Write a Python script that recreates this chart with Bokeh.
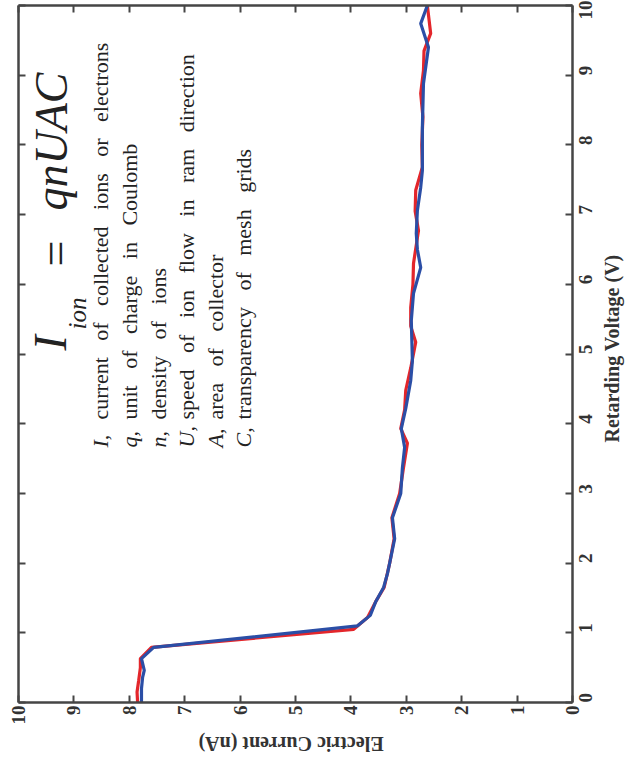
import math
from bokeh.plotting import figure
from bokeh.models import Range1d, LinearAxis, FixedTicker, Label, CustomLabelingPolicy
from bokeh.embed import file_html
from bokeh.resources import INLINE

# ---- data ----
voltage_red = [0.00, 0.15, 0.32, 0.50, 0.63, 0.79, 1.05, 1.22, 1.45, 1.65, 2.00, 2.35,
               2.65, 3.00, 3.37, 3.72, 3.93, 4.20, 4.48, 4.80, 5.17, 5.40, 5.67, 6.00,
               6.30, 6.77, 7.05, 7.35, 7.68, 8.00, 8.40, 8.74, 9.07, 9.35, 9.60, 10.00]
current_red = [7.85, 7.86, 7.83, 7.80, 7.80, 7.60, 3.95, 3.70, 3.55, 3.40, 3.30, 3.22,
               3.26, 3.12, 3.05, 2.98, 3.10, 3.03, 3.01, 2.92, 2.83, 2.92, 2.92, 2.88,
               2.87, 2.78, 2.84, 2.83, 2.71, 2.72, 2.70, 2.74, 2.69, 2.68, 2.56, 2.62]

voltage_blue = [0.00, 0.20, 0.36, 0.46, 0.63, 0.79, 1.10, 1.25, 1.45, 1.65, 1.85, 2.04,
                2.35, 2.65, 3.00, 3.37, 3.66, 3.93, 4.22, 4.62, 4.90, 5.20, 5.48, 5.87,
                6.24, 6.50, 6.73, 7.06, 7.39, 7.63, 8.25, 8.88, 9.40, 9.74, 10.00]
current_blue = [7.78, 7.78, 7.76, 7.73, 7.78, 7.56, 3.88, 3.65, 3.55, 3.41, 3.34, 3.29,
                3.21, 3.25, 3.10, 3.07, 3.03, 3.09, 3.01, 2.92, 2.89, 2.90, 2.91, 2.87,
                2.74, 2.80, 2.82, 2.80, 2.74, 2.71, 2.71, 2.69, 2.60, 2.74, 2.62]

ticks = list(range(0, 11))
x_label = "Electric Current (nA)"
y_label = "Retarding Voltage (V)"
formula_main = "I"
formula_sub = "ion"
formula_eq = "="
formula_rest = "qnUAC"
legend_symbols = ["I,", "q,", "n,", "U,", "A,", "C,"]
legend_texts = ["current of collected ions or electrons",
                "unit of charge in Coulomb",
                "density of ions",
                "speed of ion flow in ram direction",
                "area of collector",
                "transparency of mesh grids"]

# ---- layout (page pixels) ----
W, H = 625, 764
FL, FR, FT, FB = 18, 572, 5, 702
FONT = "Liberation Serif"
AX = "#454545"
TXT = "#222222"
NB = "\u00a0"

p = figure(frame_width=FR - FL, frame_height=FB - FT,
           x_range=Range1d(10, 0), y_range=Range1d(0, 10),
           x_axis_location="below", y_axis_location="right",
           output_backend="svg", toolbar_location=None,
           min_border_left=FL, min_border_top=FT,
           min_border_right=W - FR, min_border_bottom=H - FB,
           background_fill_color="white", border_fill_color="white")
p.outline_line_color = None
p.grid.visible = False


def px_to_x(px):
    return 10 - (px - FL) / (FR - FL) * 10


def py_to_y(py):
    return (FB - py) / (FB - FT) * 10


def style_axis(ax, labels=True):
    ax.ticker = FixedTicker(ticks=ticks)
    ax.minor_tick_line_color = None
    ax.major_tick_in = 7
    ax.major_tick_out = 0
    ax.axis_line_color = AX
    ax.axis_line_width = 2.5
    ax.major_tick_line_color = AX
    ax.major_tick_line_width = 2
    if labels:
        ax.major_label_text_font = FONT
        ax.major_label_text_font_style = "bold"
        ax.major_label_text_font_size = "19px"
        ax.major_label_text_color = "#333333"
        ax.major_label_orientation = math.pi / 2
        ax.axis_label_text_font = FONT
        ax.axis_label_text_font_style = "bold"
        ax.axis_label_text_font_size = "20px"
        ax.axis_label_text_color = "#333333"
    else:
        ax.major_label_text_font_size = "0px"
        ax.major_label_standoff = 0
        ax.major_label_policy = CustomLabelingPolicy(code="return []")


style_axis(p.xaxis[0])
style_axis(p.yaxis[0])
# rotated axis titles are anchored at an axis end; pad with no-break spaces to centre them
p.xaxis[0].major_label_standoff = 3
p.xaxis[0].axis_label = x_label + NB * 36
p.xaxis[0].axis_label_orientation = math.pi
p.xaxis[0].axis_label_align = "end"
p.xaxis[0].axis_label_standoff = 16
p.yaxis[0].major_label_standoff = 13
p.yaxis[0].axis_label = NB * 52 + y_label
p.yaxis[0].axis_label_orientation = math.pi / 2
p.yaxis[0].axis_label_align = "start"
p.yaxis[0].axis_label_standoff = 10

left_ax = LinearAxis()
top_ax = LinearAxis()
style_axis(left_ax, labels=False)
style_axis(top_ax, labels=False)
p.add_layout(left_ax, "left")
p.add_layout(top_ax, "above")

p.line(current_red, voltage_red, line_color="#e3262b", line_width=3.2)
p.line(current_blue, voltage_blue, line_color="#2b4ea6", line_width=3.2)

# formula
p.add_layout(Label(x=px_to_x(50), y=py_to_y(350), text=formula_main, angle=math.pi / 2,
                   text_align="left", text_baseline="middle", text_font=FONT,
                   text_font_style="italic", text_font_size="46px", text_color=TXT))
p.add_layout(Label(x=px_to_x(77), y=py_to_y(329), text=formula_sub, angle=math.pi / 2,
                   text_align="left", text_baseline="middle", text_font=FONT,
                   text_font_style="italic", text_font_size="25px", text_color=TXT))
p.add_layout(Label(x=px_to_x(55), y=py_to_y(266), text=formula_eq, angle=math.pi / 2,
                   text_align="left", text_baseline="middle", text_font=FONT,
                   text_font_size="46px", text_color=TXT))
p.add_layout(Label(x=px_to_x(51), y=py_to_y(210), text=formula_rest, angle=math.pi / 2,
                   text_align="left", text_baseline="middle", text_font=FONT,
                   text_font_style="italic", text_font_size="46px", text_color=TXT))

cols = [100, 129, 158, 186, 215, 243]
for cx, sym, txt in zip(cols, legend_symbols, legend_texts):
    p.add_layout(Label(x=px_to_x(cx), y=py_to_y(447), text=sym, angle=math.pi / 2,
                       text_align="left", text_baseline="middle", text_font=FONT,
                       text_font_style="italic", text_font_size="22px", text_color=TXT))
    p.add_layout(Label(x=px_to_x(cx), y=py_to_y(419), text=txt.replace(" ", NB + NB + " "),
                       angle=math.pi / 2,
                       text_align="left", text_baseline="middle", text_font=FONT,
                       text_font_size="22px", text_color=TXT))

open("out.html", "w").write(file_html(p, INLINE))
